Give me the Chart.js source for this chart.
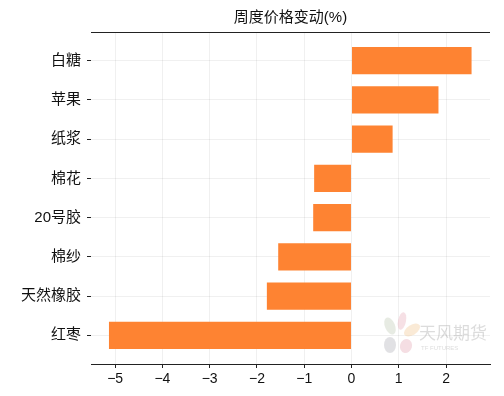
<!DOCTYPE html>
<html>
<head>
<meta charset="utf-8">
<script src="https://cdn.jsdelivr.net/npm/chart.js@4/dist/chart.umd.min.js"></script>
<style>
  html, body { margin: 0; padding: 0; background: #ffffff; }
  #wrap { width: 504px; height: 396px; }
</style>
</head>
<body>
<div id="wrap"><canvas id="chart" width="504" height="396"></canvas></div>
<script>
// categories top to bottom, weekly price change in %
const categories = ['白糖', '苹果', '纸浆', '棉花', '20号胶', '棉纱', '天然橡胶', '红枣'];
const changes = [2.54, 1.84, 0.87, -0.79, -0.81, -1.55, -1.79, -5.13];
const xTicks = [-5, -4, -3, -2, -1, 0, 1, 2];
const titleText = '周度价格变动(%)';

const FONT = '"Liberation Sans", "Noto Sans CJK SC", sans-serif';

// title centred over the plot + top spine + faint watermark
const decor = {
    id: 'decor',
    beforeDatasetsDraw(chart) {
        const ctx = chart.ctx;
        ctx.save();
        ctx.globalAlpha = 0.35;
        const petals = [
            [390, 326, 5, 9, -0.4, '#b9c7b0'],
            [402, 321, 4, 9, 0.2, '#e6a7b5'],
            [412, 330, 5, 9, 1.0, '#f2c48a'],
            [390, 345, 6, 8, 0, '#a9a9b3'],
            [406, 346, 6, 7, 0.3, '#e3a0ae']
        ];
        petals.forEach(p => {
            ctx.fillStyle = p[5];
            ctx.beginPath();
            ctx.ellipse(p[0], p[1], p[2], p[3], p[4], 0, Math.PI * 2);
            ctx.fill();
        });
        ctx.fillStyle = '#9a9a9a';
        ctx.font = '17px "Noto Sans CJK SC", sans-serif';
        ctx.textBaseline = 'middle';
        ctx.fillText('天风期货', 419, 333);
        ctx.font = '6px "Liberation Sans", sans-serif';
        ctx.fillText('TF FUTURES', 421, 348);
        ctx.restore();
    },
    afterDraw(chart) {
        const ctx = chart.ctx;
        const a = chart.chartArea;
        ctx.save();
        ctx.strokeStyle = '#222222';
        ctx.lineWidth = 1;
        ctx.beginPath();
        ctx.moveTo(a.left, a.top + 0.5);
        ctx.lineTo(a.right, a.top + 0.5);
        ctx.stroke();
        ctx.fillStyle = '#111111';
        ctx.font = '15px ' + FONT;
        ctx.textAlign = 'center';
        ctx.textBaseline = 'middle';
        ctx.fillText(titleText, (a.left + a.right) / 2, 18);
        ctx.restore();
    }
};

new Chart(document.getElementById('chart').getContext('2d'), {
    type: 'bar',
    data: {
        datasets: [{
            data: changes.map((v, i) => ({ x: v, y: i })),
            backgroundColor: '#fe8332',
            borderWidth: 0,
            categoryPercentage: 1,
            barPercentage: 0.69
        }]
    },
    options: {
        indexAxis: 'y',
        responsive: false,
        animation: false,
        layout: { padding: { top: 32, right: 14, left: 0, bottom: 0 } },
        plugins: {
            legend: { display: false },
            tooltip: { enabled: false },
            title: { display: false }
        },
        scales: {
            x: {
                type: 'linear',
                min: -5.51,
                max: 2.93,
                afterFit: s => { s.height = 32; },
                ticks: {
                    stepSize: 1,
                    includeBounds: false,
                    color: '#111111',
                    padding: 3,
                    font: { family: FONT, size: 14 },
                    callback: v => xTicks.includes(v) ? String(v).replace('-', '\u2212') : ''
                },
                grid: {
                    color: 'rgba(0,0,0,0.06)',
                    tickColor: '#222222',
                    tickLength: 4
                },
                border: { display: true, color: '#222222', width: 1 }
            },
            y: {
                type: 'linear',
                reverse: true,
                offset: false,
                min: -0.73,
                max: 7.73,
                afterFit: s => { s.width = 91; },
                ticks: {
                    stepSize: 1,
                    includeBounds: false,
                    color: '#111111',
                    padding: 6,
                    font: { family: FONT, size: 15 },
                    callback: v => Number.isInteger(v) && categories[v] !== undefined ? categories[v] : ''
                },
                grid: {
                    offset: false,
                    color: 'rgba(0,0,0,0.06)',
                    tickColor: '#222222',
                    tickLength: 4
                },
                border: { display: false }
            }
        }
    },
    plugins: [decor]
});
</script>
</body>
</html>
